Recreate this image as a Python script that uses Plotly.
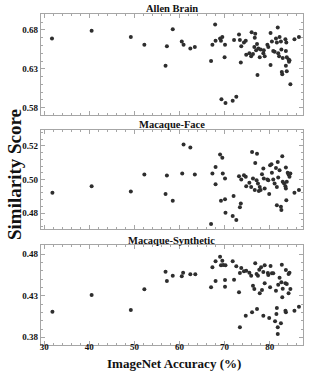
import plotly.graph_objects as go

# ---- data ----
allen_x = [31.7, 40.5, 49.2, 52.2, 56.9, 57.2, 58.5, 60.5, 60.9, 62.4, 63.4, 67.0, 67.3, 67.9, 68.0, 69.0,
           69.2, 69.5, 70.1, 70.0, 69.3, 70.2, 71.8, 72.6, 72.1, 73.2, 73.4, 73.6, 73.7, 74.3, 74.7, 74.8,
           75.5, 75.9, 76.0, 76.3, 76.6, 76.7, 76.8, 77.0, 77.2, 77.3, 77.5, 77.8, 78.0, 78.6, 78.7, 78.9,
           79.5, 79.7, 80.2, 80.2, 80.5, 80.8, 81.1, 81.4, 81.6, 81.8, 81.9, 82.1, 82.2, 82.5, 82.6, 82.9,
           82.7, 82.8, 83.5, 83.6, 83.7, 83.6, 83.8, 83.8, 84.2, 84.4, 84.3, 84.6, 85.5, 86.5]
allen_y = [0.669, 0.679, 0.671, 0.661, 0.634, 0.659, 0.681, 0.665, 0.661, 0.656, 0.658, 0.640, 0.661, 0.687,
           0.666, 0.669, 0.666, 0.671, 0.661, 0.645, 0.591, 0.586, 0.589, 0.594, 0.667, 0.674, 0.667, 0.638,
           0.659, 0.664, 0.666, 0.648, 0.650, 0.646, 0.677, 0.649, 0.658, 0.670, 0.675, 0.654, 0.662, 0.622,
           0.656, 0.645, 0.655, 0.650, 0.654, 0.646, 0.661, 0.658, 0.676, 0.635, 0.665, 0.653, 0.652, 0.669,
           0.664, 0.683, 0.650, 0.646, 0.671, 0.665, 0.655, 0.644, 0.626, 0.623, 0.668, 0.653, 0.664, 0.634,
           0.627, 0.645, 0.642, 0.641, 0.639, 0.610, 0.668, 0.671]

face_x = [31.8, 40.5, 49.2, 52.2, 56.9, 57.2, 58.5, 60.6, 60.9, 62.4, 63.4, 67.0, 67.3, 68.0, 68.0, 69.0,
          69.5, 69.2, 69.6, 70.1, 70.1, 70.2, 72.0, 71.8, 72.6, 73.2, 73.4, 73.6, 73.7, 74.3, 74.7, 74.8,
          75.5, 75.9, 76.1, 76.3, 76.7, 76.8, 77.1, 77.2, 77.4, 77.6, 77.8, 78.0, 78.3, 78.6, 78.7, 78.9,
          79.5, 79.7, 79.9, 80.1, 80.4, 80.5, 80.8, 81.1, 81.4, 81.6, 81.8, 81.9, 81.6, 82.2, 82.5, 82.6,
          82.8, 82.9, 83.2, 83.5, 83.6, 83.6, 83.7, 84.0, 84.2, 84.4, 84.6, 85.5, 86.5, 83.8]
face_y = [0.4921, 0.4960, 0.4929, 0.5030, 0.4913, 0.5024, 0.4873, 0.5036, 0.5208, 0.5190, 0.5030, 0.4735,
          0.5036, 0.4972, 0.5075, 0.5149, 0.5129, 0.4873, 0.5036, 0.5006, 0.4883, 0.4802, 0.4901, 0.4782,
          0.4758, 0.5020, 0.4834, 0.4857, 0.5000, 0.5026, 0.5016, 0.4960, 0.4980, 0.4956, 0.5164, 0.5006,
          0.4937, 0.5099, 0.4996, 0.5154, 0.4976, 0.4931, 0.4956, 0.4937, 0.5032, 0.5065, 0.5006, 0.4947,
          0.5000, 0.4996, 0.4913, 0.5085, 0.5091, 0.5040, 0.5000, 0.4976, 0.5069, 0.4956, 0.5105, 0.5012,
          0.4846, 0.5055, 0.4838, 0.4818, 0.5139, 0.4986, 0.4976, 0.4960, 0.4947, 0.5071, 0.4877, 0.5040,
          0.5030, 0.5016, 0.5036, 0.4921, 0.4937, 0.4986]

synth_x = [31.8, 40.5, 49.2, 52.2, 56.9, 57.2, 58.5, 60.5, 60.8, 62.4, 63.5, 67.0, 67.3, 68.0, 68.0, 69.0,
           69.2, 69.5, 69.7, 70.1, 70.1, 70.2, 71.8, 72.1, 72.6, 73.2, 73.4, 73.4, 73.7, 74.3, 74.7, 74.8,
           75.5, 75.9, 76.1, 76.3, 76.6, 76.8, 77.2, 77.1, 77.4, 77.7, 77.8, 78.1, 78.3, 78.6, 78.6, 78.9,
           78.9, 79.6, 79.7, 79.9, 80.1, 80.2, 80.5, 80.8, 81.2, 81.4, 81.5, 81.6, 81.8, 81.8, 81.9, 82.2,
           82.5, 82.6, 82.7, 82.8, 82.9, 83.5, 83.5, 83.6, 83.6, 83.8, 84.2, 84.2, 84.4, 84.6, 85.5, 86.5]
synth_y = [0.4108, 0.4308, 0.4128, 0.4376, 0.4588, 0.4476, 0.4540, 0.4532, 0.4576, 0.4556, 0.4556, 0.4400,
           0.4640, 0.4476, 0.4712, 0.4768, 0.4664, 0.4720, 0.4668, 0.4488, 0.4408, 0.4664, 0.4712, 0.4492,
           0.4652, 0.4340, 0.4572, 0.3920, 0.4632, 0.4592, 0.4060, 0.4600, 0.4576, 0.4540, 0.4100, 0.4420,
           0.4380, 0.4688, 0.4140, 0.4560, 0.4540, 0.4612, 0.4328, 0.4640, 0.4368, 0.4584, 0.4060, 0.4448,
           0.4664, 0.4572, 0.4548, 0.4032, 0.4400, 0.4656, 0.4568, 0.4568, 0.3992, 0.4360, 0.4080, 0.4152,
           0.3920, 0.3840, 0.4432, 0.4516, 0.3968, 0.4460, 0.4672, 0.4280, 0.4384, 0.4448, 0.4120, 0.4100,
           0.4608, 0.4440, 0.4328, 0.4560, 0.4576, 0.4380, 0.4120, 0.4168]

panel_titles = ["Allen Brain", "Macaque-Face", "Macaque-Synthetic"]
x_label = "ImageNet Accuracy (%)"
y_label = "Similarity Score"

# ---- figure ----
W, H = 310, 372
FONT = "Liberation Serif"
FRAME = "#a6a6a6"
TXT = "#111111"
x_dom = [40.7 / W, 303 / W]
y_doms_px = [(14, 115), (130, 229), (245, 345)]
y_ranges = [(0.5706, 0.7005), (0.4705, 0.5295), (0.3708, 0.4908)]
y_ticks = [(0.58, 0.05, 0.01), (0.48, 0.02, 0.004), (0.38, 0.05, 0.01)]
series = [(allen_x, allen_y), (face_x, face_y), (synth_x, synth_y)]

fig = go.Figure()
layout = dict(width=W, height=H, margin=dict(l=0, r=0, t=0, b=0),
              paper_bgcolor="white", plot_bgcolor="white", showlegend=False,
              font=dict(family=FONT, color=TXT))
annotations = []
for i, ((xs, ys), (top, bot), yr, (t0, dt, mdt)) in enumerate(zip(series, y_doms_px, y_ranges, y_ticks)):
    n = "" if i == 0 else str(i + 1)
    fig.add_trace(go.Scatter(x=xs, y=ys, mode="markers", xaxis="x" + n, yaxis="y" + n,
                             marker=dict(size=4, color="#2e2e2e")))
    layout["xaxis" + n] = dict(domain=x_dom, anchor="y" + n, range=[29.2, 87.4],
                               showline=True, mirror="allticks", linecolor=FRAME, linewidth=1,
                               showgrid=False, zeroline=False,
                               ticks="inside", ticklen=4, tickcolor=FRAME, tick0=30, dtick=10,
                               minor=dict(ticks="inside", ticklen=2, dtick=2, tickcolor=FRAME),
                               showticklabels=(i == 2), ticklabelstandoff=-7,
                               tickfont=dict(family=FONT, size=9, weight="bold", color=TXT))
    layout["yaxis" + n] = dict(domain=[1 - bot / H, 1 - top / H], anchor="x" + n, range=list(yr),
                               showline=True, mirror="allticks", linecolor=FRAME, linewidth=1,
                               showgrid=False, zeroline=False,
                               ticks="inside", ticklen=4, tickcolor=FRAME, tick0=t0, dtick=dt,
                               tickformat=".2f",
                               minor=dict(ticks="inside", ticklen=2, dtick=mdt, tickcolor=FRAME),
                               tickfont=dict(family=FONT, size=9, weight="bold", color=TXT))

title_y = [9, 125, 240]
for t, yy in zip(panel_titles, title_y):
    annotations.append(dict(text="<b>%s</b>" % t, x=(x_dom[0] + x_dom[1]) / 2, y=1 - yy / H,
                            xref="paper", yref="paper", showarrow=False,
                            font=dict(family=FONT, size=10.5, color=TXT),
                            xanchor="center", yanchor="middle"))
annotations.append(dict(text="<b>%s</b>" % x_label, x=173.5 / W, y=1 - 363 / H,
                        xref="paper", yref="paper", showarrow=False,
                        font=dict(family=FONT, size=13, color=TXT),
                        xanchor="center", yanchor="middle"))
annotations.append(dict(text="<b>%s</b>" % y_label, x=14 / W, y=1 - 175 / H, textangle=-90,
                        xref="paper", yref="paper", showarrow=False,
                        font=dict(family=FONT, size=19, color=TXT),
                        xanchor="center", yanchor="middle"))
layout["annotations"] = annotations
fig.update_layout(**layout)
fig.write_html("out.html", config={"displayModeBar": False},
               post_script="document.body.style.margin='0';document.body.style.overflow='hidden';")
